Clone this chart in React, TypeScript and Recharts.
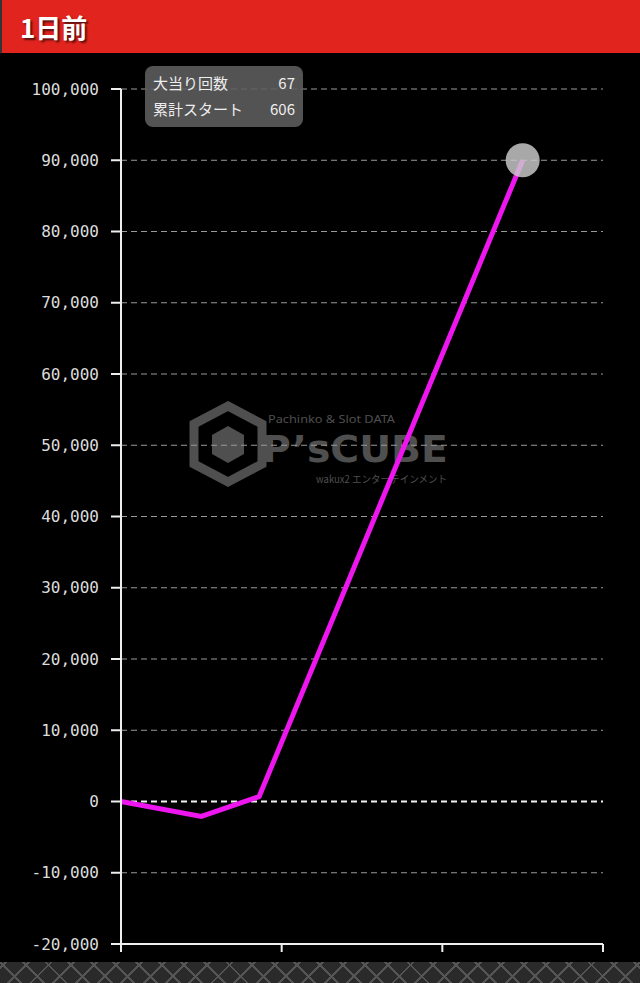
import { CartesianGrid, Line, LineChart, ReferenceLine, XAxis, YAxis } from "recharts";

// 経過（累計スタート）
const spins = [0, 100, 172, 500];
// 差枚
const diffs = [0, -2100, 700, 90000];
const yTicks = [-20000, -10000, 0, 10000, 20000, 30000, 40000, 50000, 60000, 70000, 80000, 90000, 100000];
const xTicks = [0, 200, 400, 600];

const hitCount = 67;
const totalStart = 606;

const chartData = spins.map((s, i) => ({ spin: s, diff: diffs[i] }));

const LINE_COLOR = "#ee16ee";

// 最後の点だけ丸を描く
const EndDot = (props: any) => {
  const { cx, cy, index } = props;
  if (index !== chartData.length - 1) return <g key={`dot-${index}`} />;
  return <circle key={`dot-${index}`} cx={cx} cy={cy} r={17} fill="rgba(205,205,205,0.82)" />;
};

const Watermark = () => (
  <svg
    width={300}
    height={90}
    style={{ position: "absolute", left: 180, top: 347, pointerEvents: "none" }}
  >
    <g fill="#4f4f4f">
      <polygon points="48,6 82,24 82,64 48,82 14,64 14,24" fill="none" stroke="#4f4f4f" strokeWidth={9} />
      <polygon points="48,26 64,35 64,54 48,63 32,54 32,35" />
      <text x={88} y={23} fontSize={11} textLength={127} lengthAdjust="spacingAndGlyphs" fontFamily="'Noto Sans', sans-serif">
        Pachinko &amp; Slot DATA
      </text>
      <text
        x={82}
        y={62}
        fontSize={38}
        fontWeight="bold"
        textLength={186}
        lengthAdjust="spacingAndGlyphs"
        fontFamily="'DejaVu Sans', sans-serif"
      >
        P’sCUBE
      </text>
      <text x={136} y={83} fontSize={10} textLength={131} lengthAdjust="spacingAndGlyphs" fontFamily="'Noto Sans CJK JP', sans-serif">
        wakux2 エンターテインメント
      </text>
    </g>
  </svg>
);

export default function App() {
  return (
    <div
      style={{
        position: "fixed",
        left: 0,
        top: 0,
        width: 640,
        height: 983,
        background: "#000",
        overflow: "hidden",
      }}
    >
      {/* 見出し */}
      <div
        style={{
          height: 53,
          background: "#e1241d",
          color: "#fff",
          fontFamily: "'Noto Sans CJK JP', serif",
          fontWeight: "bold",
          fontSize: 26,
          lineHeight: "53px",
          paddingLeft: 18,
          textShadow: "2px 2px 2px rgba(0,0,0,0.6)",
          borderLeft: "2px solid #333",
        }}
      >
        1日前
      </div>

      <div style={{ position: "relative", width: 640, height: 909 }}>
        <Watermark />
        <LineChart
          width={640}
          height={909}
          data={chartData}
          margin={{ top: 36, right: 37, bottom: 0, left: 0 }}
        >
          <CartesianGrid vertical={false} stroke="#9a9a9a" strokeDasharray="6 4" />
          <XAxis
            dataKey="spin"
            type="number"
            domain={[0, 600]}
            ticks={xTicks}
            height={18}
            tickSize={8}
            tickFormatter={() => ""}
            axisLine={{ stroke: "#eee", strokeWidth: 2 }}
            tickLine={{ stroke: "#eee", strokeWidth: 2 }}
          />
          <YAxis
            type="number"
            domain={[-20000, 100000]}
            ticks={yTicks}
            width={121}
            tickSize={10}
            tickMargin={12}
            interval={0}
            tickFormatter={(v: number) => v.toLocaleString("en-US")}
            tick={{ fill: "#dcdcdc", fontSize: 16, fontFamily: "'DejaVu Sans Mono', monospace" }}
            axisLine={{ stroke: "#eee", strokeWidth: 2 }}
            tickLine={{ stroke: "#eee", strokeWidth: 2 }}
          />
          <ReferenceLine y={0} stroke="#f2f2f2" strokeWidth={2} strokeDasharray="6 4" />
          <Line
            type="linear"
            dataKey="diff"
            stroke={LINE_COLOR}
            strokeWidth={5}
            dot={EndDot}
            activeDot={false}
            isAnimationActive={false}
          />
        </LineChart>

        {/* ツールチップ */}
        <div
          style={{
            position: "absolute",
            left: 145,
            top: 13,
            width: 158,
            height: 61,
            boxSizing: "border-box",
            padding: "4px 8px",
            borderRadius: 8,
            background: "rgba(95,95,95,0.88)",
            color: "#eee",
            fontFamily: "'Noto Sans CJK JP', sans-serif",
            fontSize: 15,
            lineHeight: "26px",
          }}
        >
          <div style={{ display: "flex", justifyContent: "space-between" }}>
            <span>大当り回数</span>
            <span>{hitCount}</span>
          </div>
          <div style={{ display: "flex", justifyContent: "space-between" }}>
            <span>累計スタート</span>
            <span>{totalStart}</span>
          </div>
        </div>
      </div>

      {/* 下部の模様 */}
      <div
        style={{
          height: 21,
          background:
            "repeating-linear-gradient(45deg, #2a2a2a 0 14px, #555 14px 16px), repeating-linear-gradient(-45deg, #2a2a2a 0 14px, #555 14px 16px)",
          backgroundBlendMode: "lighten",
        }}
      />
    </div>
  );
}
